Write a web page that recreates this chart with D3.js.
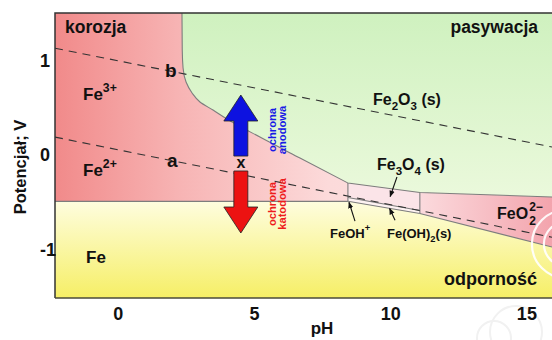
<!DOCTYPE html>
<html><head><meta charset="utf-8">
<script src="https://cdn.jsdelivr.net/npm/d3@7"></script>
<style>
body{margin:0;background:#fff}
svg{display:block}
text{font-family:"Liberation Sans",Arial,sans-serif;font-weight:bold}
</style>
</head><body>
<svg id="c" width="552" height="340"></svg>
<script>
// ---- data (pH, potential V) ----
const phTicks = [0, 5, 10, 15];
const vTicks = [1, 0, -1];
const phDomain = [-2.30, 15.94];
const vDomain = [-1.513, 1.503];
// lower boundary of passivation (Fe2O3 / Fe3O4) region
const passivCurve = [[2.36,1.503],[2.37,1.111],[2.40,0.921],[2.51,0.772],[2.73,0.656],[3.02,0.561],[3.50,0.476],[4.01,0.381],[5.22,0.190],[6.69,-0.032],[8.45,-0.296]];
const passivLine = [[8.45,-0.296],[11.09,-0.397],[15.94,-0.444]];
const feLine = [[-2.30,-0.49],[8.45,-0.49]];
const feOH2Upper = [[8.45,-0.45],[11.09,-0.587]];
const feOH2Lower = [[8.45,-0.49],[11.09,-0.619]];
const feo2Lower = [[11.09,-0.619],[15.94,-0.974]];
const boxLeft = [[8.45,-0.296],[8.45,-0.49]];
const boxRight = [[11.09,-0.397],[11.09,-0.619]];
const lineA = [[-2.30,0.19],[15.94,-0.87]];
const lineB = [[-2.30,1.13],[15.94,0.085]];
const blueArrow = {ph:4.52, tip:0.635, head:0.36, tail:-0.011};
const redArrow = {ph:4.52, tip:-0.825, head:-0.55, tail:-0.169};
const pointers = [
  {from:[8.71,-0.70], to:[8.49,-0.50]},
  {from:[10.18,-0.69], to:[9.98,-0.565]},
  {from:[10.25,-0.233], to:[10.0,-0.44]}
];

// ---- layout ----
const M = {left:55, top:13, right:552, bottom:298};
const svg = d3.select("#c");
const x = d3.scaleLinear().domain(phDomain).range([M.left, M.right]);
const y = d3.scaleLinear().domain(vDomain).range([M.bottom, M.top]);
const P = d => [x(d[0]), y(d[1])];

const defs = svg.append("defs");
function grad(id, x1,y1,x2,y2, stops){
  const g = defs.append("linearGradient").attr("id",id).attr("gradientUnits","userSpaceOnUse")
    .attr("x1",x1).attr("y1",y1).attr("x2",x2).attr("y2",y2);
  stops.forEach(s=>g.append("stop").attr("offset",s[0]).attr("stop-color",s[1]));
}
grad("gRed", M.left,0,M.right,0, [[0,"#f18a8a"],[0.25,"#f7b4b4"],[0.55,"#fcdada"],[1,"#fde6e6"]]);
grad("gGreen", 0,M.top,0,200, [[0,"#cff1bf"],[1,"#ebf9dc"]]);
grad("gYellow", 0,200,0,M.bottom, [[0,"#fefde0"],[1,"#f6ef66"]]);
grad("gFeO2", x(11.09),0,M.right,0, [[0,"#fbdadd"],[1,"#f3a4ad"]]);
defs.append("clipPath").attr("id","plotClip").append("rect")
  .attr("x",M.left).attr("y",M.top).attr("width",M.right-M.left).attr("height",M.bottom-M.top);
defs.append("marker").attr("id","ah").attr("viewBox","0 0 10 10").attr("refX",9).attr("refY",5)
  .attr("markerWidth",6).attr("markerHeight",6).attr("orient","auto-start-reverse")
  .append("path").attr("d","M0,1L10,5L0,9Z").attr("fill","#111");

const plot = svg.append("g").attr("clip-path","url(#plotClip)");
const lin = d3.line().x(d=>x(d[0])).y(d=>y(d[1]));

// red (corrosion) background
plot.append("rect").attr("x",M.left).attr("y",M.top).attr("width",M.right-M.left).attr("height",M.bottom-M.top).attr("fill","url(#gRed)");
// FeO2^2- region
plot.append("path").attr("d", lin([passivLine[1], passivLine[2], feo2Lower[1], feo2Lower[0]])+"Z").attr("fill","url(#gFeO2)");
// Fe3O4 box
plot.append("path").attr("d", lin([boxLeft[0], boxRight[0], boxRight[1], boxLeft[1]])+"Z").attr("fill","#fbe4e8");
plot.append("path").attr("d", lin([feOH2Upper[0], feOH2Upper[1], feOH2Lower[1], feOH2Lower[0]])+"Z").attr("fill","#fdf2f2");
// green passivation region
const curveGen = d3.line().x(d=>x(d[0])).y(d=>y(d[1])).curve(d3.curveMonotoneY);
let gp = curveGen(passivCurve);
passivLine.slice(1).forEach(d=>{gp += "L"+P(d).join(",");});
gp += "L"+P([phDomain[1], vDomain[1]]).join(",")+"Z";
plot.append("path").attr("d", gp).attr("fill","url(#gGreen)");
// yellow immunity region
const yel = [...feLine, ...feOH2Lower.slice(1), ...feo2Lower.slice(1), [phDomain[1], vDomain[0]], [phDomain[0], vDomain[0]]];
plot.append("path").attr("d", lin(yel)+"Z").attr("fill","url(#gYellow)");

// boundary lines
const bstroke = "#7d7d7d";
let bl = curveGen(passivCurve);
passivLine.slice(1).forEach(d=>{bl += "L"+P(d).join(",");});
plot.append("path").attr("d", bl).attr("fill","none").attr("stroke",bstroke).attr("stroke-width",1.1);
[feLine, feOH2Upper, feOH2Lower, feo2Lower, boxLeft, boxRight].forEach(s=>{
  plot.append("path").attr("d", lin(s)).attr("fill","none").attr("stroke",bstroke).attr("stroke-width",1.1);
});
// water lines a, b
[lineA, lineB].forEach(s=>{
  plot.append("path").attr("d", lin(s)).attr("fill","none").attr("stroke","#333").attr("stroke-width",1.1).attr("stroke-dasharray","8,6");
});
// watermark circles
[[34,2.2],[22,2.2]].forEach(c=>{
  plot.append("circle").attr("cx",x(16.45)).attr("cy",y(-0.942)).attr("r",c[0]).attr("fill","none").attr("stroke","#fff").attr("stroke-width",c[1]).attr("opacity",0.9);
});
[[516,332,26],[494,338,17]].forEach(c=>{
  svg.append("circle").attr("cx",c[0]).attr("cy",c[1]).attr("r",c[2]).attr("fill","none").attr("stroke","#f1f1f1").attr("stroke-width",2);
});

// frame
svg.append("path").attr("d",`M${M.left},${M.bottom}V${M.top}H${M.right}`).attr("fill","none").attr("stroke","#333").attr("stroke-width",1.5);
svg.append("path").attr("d",`M${M.left},${M.bottom}H${M.right}`).attr("fill","none").attr("stroke","#4a4a3a").attr("stroke-width",1.5);

// axes
const xAxis = svg.append("g").attr("transform",`translate(0,${M.bottom})`)
  .call(d3.axisBottom(x).tickValues(phTicks).tickSize(0).tickPadding(9).tickFormat(d3.format("d")));
xAxis.select(".domain").remove();
xAxis.selectAll("text").attr("font-family","Liberation Sans, Arial, sans-serif").attr("font-weight","bold").attr("font-size",18).attr("fill","#111");
const yAxis = svg.append("g").attr("transform",`translate(40,0)`)
  .call(d3.axisLeft(y).tickValues(vTicks).tickSize(0).tickPadding(0).tickFormat(d=>d<0?"-"+Math.abs(d):d));
yAxis.select(".domain").remove();
yAxis.selectAll("text").attr("text-anchor","start").attr("x",0).attr("font-family","Liberation Sans, Arial, sans-serif").attr("font-weight","bold").attr("font-size",18).attr("fill","#111");

svg.append("text").attr("x",322).attr("y",334).attr("text-anchor","middle").attr("font-size",17).attr("fill","#111").text("pH");
svg.append("text").attr("transform","translate(26,167) rotate(-90)").attr("text-anchor","middle").attr("font-size",16.5).attr("fill","#111").text("Potencjał; V");

// arrows (protection)
function bigArrow(a, color){
  const cx = x(a.ph), hw = 17, sw = 7;
  const pts = [[cx, y(a.tip)],[cx+hw, y(a.head)],[cx+sw, y(a.head)],[cx+sw, y(a.tail)],[cx-sw, y(a.tail)],[cx-sw, y(a.head)],[cx-hw, y(a.head)]];
  svg.append("path").attr("d","M"+pts.map(p=>p.join(",")).join("L")+"Z").attr("fill",color).attr("stroke","#222").attr("stroke-width",0.8);
}
bigArrow(blueArrow, "#0d12e0");
bigArrow(redArrow, "#ec1212");
svg.append("text").attr("x",x(4.52)).attr("y",168).attr("text-anchor","middle").attr("font-size",16).attr("fill","#111").text("x");

function rotText(px, py, s, color){
  svg.append("text").attr("transform",`translate(${px},${py}) rotate(-90)`).attr("text-anchor","middle")
    .attr("font-size",11.2).attr("fill",color).text(s);
}
rotText(275.5,130,"ochrona","#1a1ae6");
rotText(285.5,130,"anodowa","#1a1ae6");
rotText(275.5,204,"ochrona","#ee1c1c");
rotText(285.5,204,"katodowa","#ee1c1c");

// pointer arrows
pointers.forEach(p=>{
  svg.append("line").attr("x1",x(p.from[0])).attr("y1",y(p.from[1])).attr("x2",x(p.to[0])).attr("y2",y(p.to[1]))
    .attr("stroke","#111").attr("stroke-width",1.1).attr("marker-end","url(#ah)");
});

// labels
function lab(px, py, parts, size, anchor){
  const t = svg.append("text").attr("x",px).attr("y",py).attr("font-size",size).attr("fill","#111");
  if(anchor) t.attr("text-anchor",anchor);
  let cur = 0;
  parts.forEach(p=>{
    const s = typeof p === "string" ? {t:p, dy:0} : p;
    const ts = t.append("tspan").text(s.t);
    const dy = s.dy - cur;
    if(dy) ts.attr("dy",dy);
    cur = s.dy;
    if(s.dy) ts.attr("font-size", size*0.72);
  });
  return t;
}
lab(65,33,["korozja"],17.5);
lab(538,33,["pasywacja"],17.5,"end");
lab(537,285,["odporność"],18,"end");
lab(83,100,["Fe",{t:"3+",dy:-8}],17);
lab(83,176,["Fe",{t:"2+",dy:-8}],17);
lab(86,263,["Fe"],17);
lab(165,77,["b"],19);
lab(167,167,["a"],19);
lab(373,105,["Fe",{t:"2",dy:5},"O",{t:"3",dy:5}," (s)"],16);
lab(377,170,["Fe",{t:"3",dy:5},"O",{t:"4",dy:5}," (s)"],16);
lab(330,238,["FeOH",{t:"+",dy:-7}],13);
lab(387,238,["Fe(OH)",{t:"2",dy:4},"(s)"],13);
// FeO2^2- with stacked sub/superscript
const feo = svg.append("text").attr("x",497).attr("y",219).attr("font-size",16).attr("fill","#111").text("FeO");
const w = feo.node().getComputedTextLength();
svg.append("text").attr("x",497+w+1).attr("y",211).attr("font-size",12).attr("fill","#111").text("2−");
svg.append("text").attr("x",497+w+1).attr("y",225).attr("font-size",12).attr("fill","#111").text("2");
</script>
</body></html>
